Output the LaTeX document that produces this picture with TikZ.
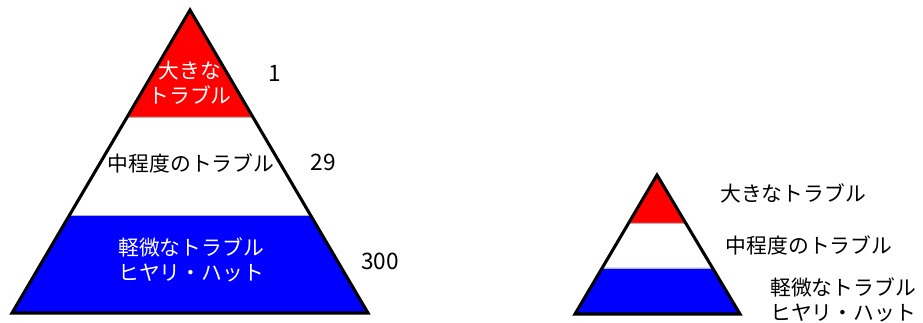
\documentclass[tikz,border=0pt]{standalone}
\usepackage{fontspec}
\setmainfont{Noto Sans CJK JP}
\usetikzlibrary{calc}

\begin{document}
\begin{tikzpicture}[x=0.75pt,y=-0.75pt,
  band/.style={draw=gray!60, line width=0.6pt},
  edge/.style={draw=black, line width=2.3pt},
  lbl/.style={font=\fontsize{15.6}{19}\selectfont, align=center, inner sep=0pt},
  num/.style={font=\fontsize{17}{18}\selectfont, inner sep=0pt}]
\useasboundingbox (0,0) rectangle (923,322);

% big pyramid
\coordinate (top) at (190,10);
\coordinate (bl) at (12,313);
\coordinate (br) at (368,313);
\coordinate (l1) at ($(top)!0.353!(bl)$);
\coordinate (r1) at ($(top)!0.353!(br)$);
\coordinate (l2) at ($(top)!0.677!(bl)$);
\coordinate (r2) at ($(top)!0.677!(br)$);

\fill[red] (top) -- (l1) -- (r1) -- cycle;
\fill[white] (l1) -- (l2) -- (r2) -- (r1) -- cycle;
\fill[blue] (l2) -- (bl) -- (br) -- (r2) -- cycle;
\draw[band] (l1) -- (r1);
\draw[band] (l2) -- (r2);
\draw[edge] (top) -- (bl) -- (br) -- cycle;

\node[lbl, text=white] (big) at (190,83) {大きな\\トラブル};
\node[lbl] (mid) at (191,163) {中程度のトラブル};
\node[lbl, text=white] (minor) at (191,260) {軽微なトラブル\\ヒヤリ・ハット};

\node[num] (n1) at (275,73) {1};
\node[num] (n29) at (323,162) {29};
\node[num] (n300) at (380,261) {300};

% small pyramid
\coordinate (stop) at (657,175);
\coordinate (sbl) at (575,314);
\coordinate (sbr) at (740,314);
\coordinate (sl1) at ($(stop)!0.345!(sbl)$);
\coordinate (sr1) at ($(stop)!0.345!(sbr)$);
\coordinate (sl2) at ($(stop)!0.669!(sbl)$);
\coordinate (sr2) at ($(stop)!0.669!(sbr)$);

\fill[red] (stop) -- (sl1) -- (sr1) -- cycle;
\fill[white] (sl1) -- (sl2) -- (sr2) -- (sr1) -- cycle;
\fill[blue] (sl2) -- (sbl) -- (sbr) -- (sr2) -- cycle;
\draw[band] (sl1) -- (sr1);
\draw[band] (sl2) -- (sr2);
\draw[edge] (stop) -- (sbl) -- (sbr) -- cycle;

\node[lbl] (sbig) at (793,193) {大きなトラブル};
\node[lbl] (smid) at (809,245) {中程度のトラブル};
\node[lbl, align=left, anchor=west] (sminor) at (770,300) {軽微なトラブル\\ヒヤリ・ハット};

\end{tikzpicture}
\end{document}
